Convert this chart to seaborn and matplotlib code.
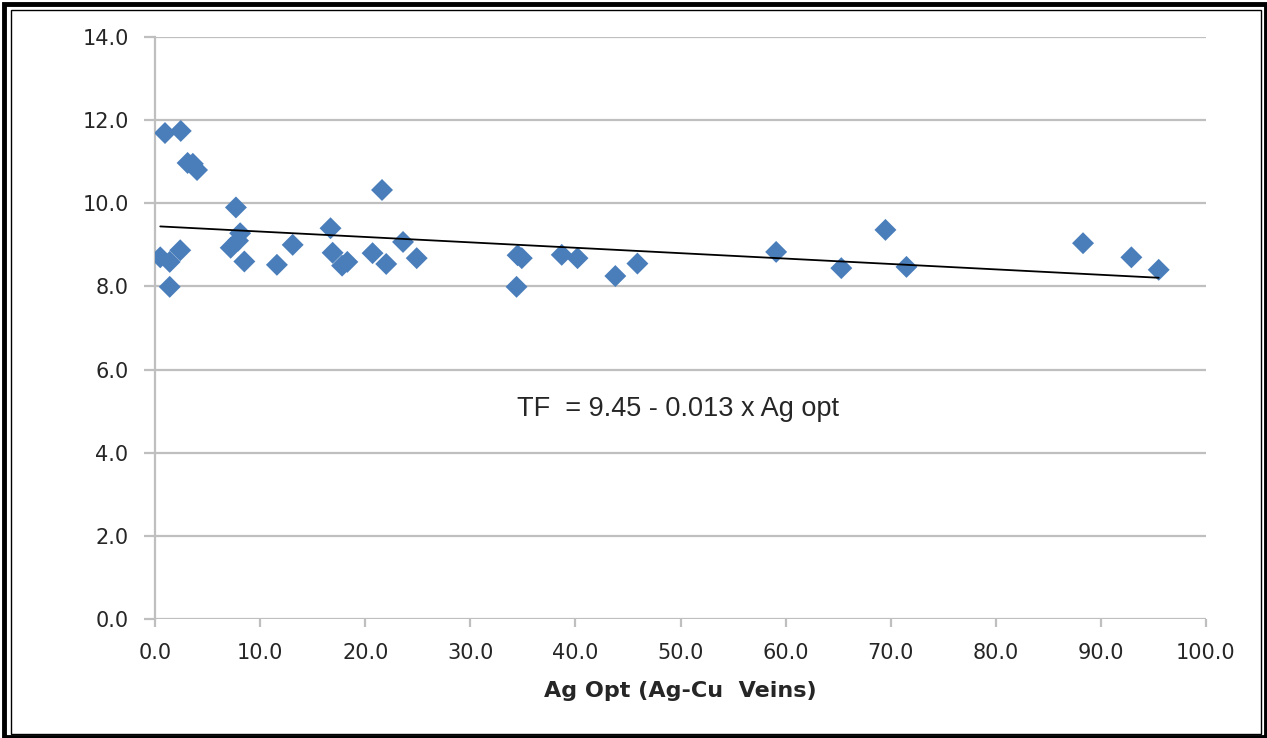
import matplotlib
matplotlib.use("Agg")
import matplotlib.pyplot as plt
from matplotlib.patches import Rectangle
import numpy as np
import pandas as pd
import seaborn as sns

# ---- data ----
ag_opt = [0.5, 0.95, 2.45, 1.4, 1.4, 2.4, 3.1, 3.6, 4.0, 7.7, 8.1, 7.2, 7.9, 8.5,
          11.6, 13.1, 16.7, 16.9, 17.8, 18.3, 21.6, 20.7, 22.0, 23.6, 24.9,
          34.5, 34.9, 34.4, 38.7, 40.2, 43.8, 45.9, 59.1, 65.3, 69.5, 71.5,
          88.3, 92.9, 95.5]
tf = [8.70, 11.69, 11.74, 8.59, 7.99, 8.87, 10.97, 10.95, 10.80, 9.90, 9.28, 8.93, 9.10, 8.60,
      8.52, 9.00, 9.40, 8.81, 8.50, 8.59, 10.32, 8.80, 8.54, 9.07, 8.68,
      8.75, 8.68, 7.99, 8.76, 8.68, 8.25, 8.55, 8.83, 8.44, 9.36, 8.47,
      9.04, 8.70, 8.40]
intercept = 9.45
slope = -0.013
x_ticks = [0, 10, 20, 30, 40, 50, 60, 70, 80, 90, 100]
x_tick_labels = ["0.0", "10.0", "20.0", "30.0", "40.0", "50.0", "60.0", "70.0", "80.0", "90.0", "100.0"]
y_ticks = [0, 2, 4, 6, 8, 10, 12, 14]
y_tick_labels = ["0.0", "2.0", "4.0", "6.0", "8.0", "10.0", "12.0", "14.0"]
x_label = "Ag Opt (Ag-Cu  Veins)"
equation = "TF  = 9.45 - 0.013 x Ag opt"

df = pd.DataFrame({"ag": ag_opt, "tf": tf})

sns.set_theme(style="white")
plt.rcParams["font.family"] = ["DejaVu Sans"]

W, H = 1267, 738
fig = plt.figure(figsize=(W / 100, H / 100), dpi=100)
ax = fig.add_axes([155 / W, 1 - 619 / H, (1206 - 155) / W, (619 - 37) / H])

grid_col = "#BFBFBF"
for yv in y_ticks:
    ax.axhline(yv, color=grid_col, lw=1.6, zorder=0.5)

sns.scatterplot(data=df, x="ag", y="tf", marker="D", s=125, color="#4A7EBB",
                edgecolor="none", linewidth=0, ax=ax, zorder=3)

xs = np.array([min(ag_opt), max(ag_opt)])
ax.plot(xs, intercept + slope * xs, color="black", lw=1.3, zorder=4)

ax.text(49.8, 5.05, equation, ha="center", va="center", fontsize=19.5,
        family=["Liberation Sans", "DejaVu Sans"], color="#262626")

ax.set_xlim(0, 100)
ax.set_ylim(0, 14)
ax.set_xticks(x_ticks)
ax.set_xticklabels(x_tick_labels)
ax.set_yticks(y_ticks)
ax.set_yticklabels(y_tick_labels)
ax.tick_params(axis="both", labelsize=15, colors="#262626")
ax.tick_params(axis="x", length=6, width=1.6, color=grid_col, pad=11, direction="out", bottom=True)
ax.tick_params(axis="y", length=8, width=1.6, color=grid_col, pad=11, direction="out", left=True)

for s in ["top", "right", "bottom"]:
    ax.spines[s].set_visible(False)
ax.spines["left"].set_color(grid_col)
ax.spines["left"].set_linewidth(1.6)

ax.set_xlabel(x_label, fontsize=16, fontweight="bold", color="#262626", labelpad=13)
ax.set_ylabel("")

# double frame around the figure
fig.patches.append(Rectangle((3.5 / W, 1.5 / H), (W - 5) / W, (H - 5) / H,
                             transform=fig.transFigure, fill=False, ec="black", lw=3.5))
fig.patches.append(Rectangle((11 / W, 4 / H), (1261 - 11) / W, (H - 14) / H,
                             transform=fig.transFigure, fill=False, ec="black", lw=1.0))

fig.savefig("out.png", dpi=100)
